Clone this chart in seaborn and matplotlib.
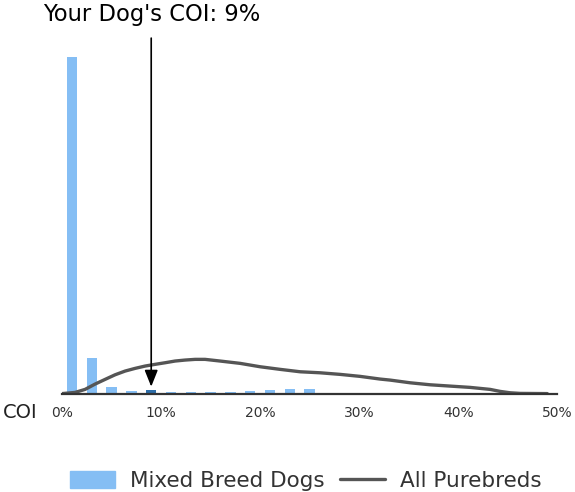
import numpy as np
import pandas as pd
import seaborn as sns
import matplotlib.pyplot as plt
from matplotlib.patches import Patch
from matplotlib.lines import Line2D

# 막대 데이터 (COI 구간 중심, 비율)
bin_centers = [1, 3, 5, 7, 9, 11, 13, 15, 17, 19, 21, 23, 25, 27]
mixed_share = [82.6, 8.7, 1.6, 0.6, 0.9, 0.4, 0.4, 0.4, 0.4, 0.6, 0.9, 1.1, 1.1, 0.1]

# 순종견 곡선 (그림에서 읽은 점)
pure_x = [0, 1.31, 2.32, 3.33, 4.34, 5.35, 6.36, 7.37, 8.38, 9.39, 10.40, 11.41,
          12.42, 13.43, 14.44, 15.96, 17.98, 20.0, 22.02, 24.04, 26.06, 28.08,
          30.10, 32.12, 33.13, 35.15, 37.17, 39.19, 41.21, 43.23, 44.24, 45.25,
          46.26, 49.0]
pure_y = [0, 0.29, 1.03, 2.33, 3.48, 4.61, 5.52, 6.18, 6.75, 7.17, 7.56, 7.98,
          8.22, 8.39, 8.39, 7.98, 7.41, 6.58, 5.94, 5.35, 5.10, 4.71,
          4.22, 3.56, 3.31, 2.65, 2.16, 1.84, 1.52, 1.03, 0.54, 0.20,
          0.05, 0]

dog_coi = 9
x_ticks = [0, 10, 20, 30, 40, 50]

light_blue = '#85BEF4'
dark_blue = '#2D6DA8'
line_gray = '#555555'

sns.set_style('white')
plt.rcParams['font.family'] = ['DejaVu Sans']

df = pd.DataFrame({'coi': bin_centers, 'share': mixed_share})
df['yours'] = np.where(df['coi'] == dog_coi, 'yes', 'no')

fig = plt.figure(figsize=(5.75, 4.92), dpi=100)
ax = fig.add_axes([0.108, 0.2, 0.861, 0.719])

# 폭은 구간 간격(2%)에 대한 비율
sns.barplot(data=df, x='coi', y='share', hue='yours', native_scale=True,
            palette={'no': light_blue, 'yes': dark_blue}, dodge=False,
            saturation=1, width=0.525, linewidth=0, legend=False, ax=ax)
sns.lineplot(x=pure_x, y=pure_y, color=line_gray, lw=2.4, ax=ax)

ax.set_xlim(0, 50)
ax.set_ylim(0, 86.7)
ax.set_xticks(x_ticks)
ax.set_xticklabels([f'{t}%' for t in x_ticks], fontsize=10, color='#333333')
ax.set_yticks([])
ax.set_xlabel('')
ax.set_ylabel('')
ax.tick_params(axis='x', length=0, pad=9)
for side in ['top', 'right', 'left']:
    ax.spines[side].set_visible(False)
ax.spines['bottom'].set_color('#333333')
ax.spines['bottom'].set_linewidth(1.6)

# 화살표 + 제목
ax.annotate("Your Dog's COI: 9%", xy=(dog_coi, 1.7), xycoords='data',
            xytext=(dog_coi, 1 - 15 / 492), textcoords=('data', 'figure fraction'),
            ha='center', va='center', fontsize=16.3, color='black',
            arrowprops=dict(arrowstyle='-|>,head_length=0.5,head_width=0.2',
                            mutation_scale=20, color='black', lw=1.2,
                            shrinkA=6, shrinkB=0))

fig.text(3 / 575, 1 - 413 / 492, 'COI', ha='left', va='center', fontsize=14, color='#222222')

handles = [Patch(color=light_blue), Line2D([0], [0], color=line_gray, lw=2.4)]
fig.legend(handles, ['Mixed Breed Dogs', 'All Purebreds'], loc='center',
           bbox_to_anchor=(0.532, 1 - 481 / 492), ncol=2, frameon=False,
           fontsize=15.5, handlelength=2.1, handleheight=0.8, handletextpad=0.7,
           columnspacing=0.7, labelcolor='#333333')

fig.savefig('out.png', dpi=100)
